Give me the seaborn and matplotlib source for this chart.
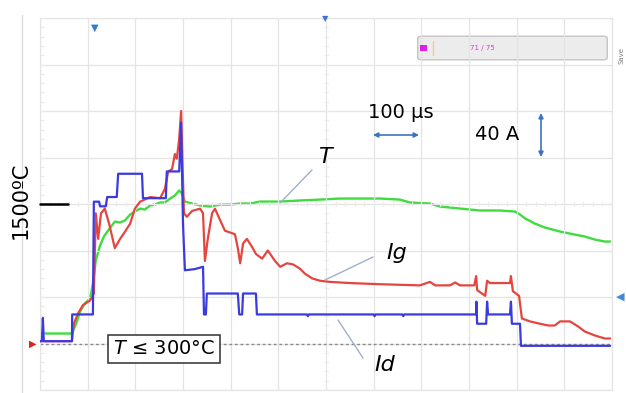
import numpy as np
import pandas as pd
import seaborn as sns
import matplotlib
matplotlib.use("Agg")
import matplotlib.pyplot as plt
from matplotlib.patches import FancyBboxPatch, Rectangle
from matplotlib.lines import Line2D

# ---------------- data (time in µs, currents in A, temperature in °C) -------------
t_id = [0, 4, 6, 8, 67, 67.5, 111, 113, 124, 126, 138, 141, 161, 164, 214, 216, 264, 266,
        292, 296, 300, 304, 325, 342, 344, 348, 350, 415, 418, 424, 426, 453, 455,
        560, 562, 564, 700, 702, 704, 760, 762, 764, 915, 915.5, 917, 936, 938, 940,
        986, 988, 990, 1007, 1009, 1196]
id_a = [2, 2, 22, 2, 2, 25, 25, 122, 122, 118, 118, 126, 126, 146, 146, 125, 125, 148,
        148, 190, 103, 63, 64, 66, 25, 25, 43, 43, 25, 25, 43, 43, 25,
        25, 23.5, 25, 25, 23.5, 25, 25, 23.5, 25, 25, 36, 17, 17, 36, 25,
        25, 36, 17, 17, -2, -2]

t_ig = [0, 67, 71, 80, 90, 105, 113, 117, 122, 128, 136, 145, 157, 168, 178, 189, 199,
        210, 231, 252, 262, 269, 277, 283, 287, 292, 296, 298, 302, 308, 319, 336, 342,
        346, 352, 361, 367, 378, 388, 409, 415, 420, 426, 434, 445, 453, 466, 478, 493,
        504, 518, 531, 545, 556, 571, 587, 608, 650, 713, 797, 818, 829, 860, 871, 881,
        911, 915, 917, 934, 938, 944, 986, 988, 992, 1005, 1011, 1028, 1049, 1066, 1080,
        1091, 1112, 1129, 1143, 1164, 1185, 1196]
ig_a = [2, 2, 17, 26, 33, 37, 43, 112, 90, 112, 116, 103, 82, 90, 96, 103, 116,
        122, 126, 125, 133, 148, 150, 163, 159, 176, 200, 168, 112, 109, 114, 116, 112,
        71, 90, 112, 116, 106, 97, 94, 82, 69, 86, 90, 83, 77, 73, 80, 71,
        66, 69, 68, 64.5, 60, 56, 54, 53, 52, 51, 50, 53, 50, 50, 52.5, 50,
        50, 58, 46, 41, 54, 52, 52, 58, 45, 41, 21.5, 19, 17, 15.5, 15.5,
        19, 19, 14.6, 10.3, 6.9, 4.3, 4.3]

t_T = [0, 67, 76, 84, 94, 105, 111, 117, 126, 134, 143, 157, 168, 178, 189, 199, 210, 220,
       231, 241, 252, 262, 273, 283, 292, 298, 304, 319, 336, 357, 378, 399, 420, 441, 462,
       504, 545, 587, 629, 671, 713, 755, 776, 818, 839, 881, 923, 965, 997, 1007, 1018,
       1038, 1059, 1091, 1122, 1143, 1164, 1185, 1196]
T_c = [386, 386, 472, 575, 644, 687, 816, 1014, 1143, 1220, 1272, 1349, 1341, 1358, 1409,
       1435, 1461, 1452, 1487, 1495, 1513, 1513, 1547, 1573, 1616, 1590, 1521, 1504, 1487,
       1478, 1495, 1495, 1504, 1504, 1521, 1521, 1530, 1538, 1547, 1547, 1547, 1538, 1513,
       1504, 1478, 1461, 1444, 1444, 1435, 1409, 1375, 1332, 1298, 1263, 1237, 1220, 1194,
       1177, 1177]

x_ticks = list(range(0, 1201, 100))      # 100 µs / div
y_ticks = list(range(-40, 281, 40))      # 40 A / div

# ---------------- figure ----------------
sns.set_theme(style="white")
plt.rcParams['font.family'] = ['DejaVu Sans']
plt.rcParams['text.color'] = 'black'

W, H = 626, 393
fig = plt.figure(figsize=(W / 100, H / 100), dpi=100)
fig.patch.set_facecolor("white")

L, R, T, B = 40, 612, 18, 390
ax = fig.add_axes([L / W, 1 - B / H, (R - L) / W, (B - T) / H])
ax.set_xlim(0, 1200)
ax.set_ylim(-40, 280)
ax.set_xticks(x_ticks)
ax.set_yticks(y_ticks)
ax.set_xticklabels([])
ax.set_yticklabels([])
ax.tick_params(length=0)
ax.grid(True, color="#e4e4e4", lw=0.9)
for s in ax.spines.values():
    s.set_color("#e4e4e4")
    s.set_linewidth(0.9)
ax.spines["top"].set_linestyle((0, (2, 2)))

ax2 = ax.twinx()
ax2.set_ylim(-100, 3100)
ax2.set_yticks([])
for s in ax2.spines.values():
    s.set_visible(False)

# minor ticks along centre lines and left edge
for xc in np.arange(0, 1200, 20):
    ax.plot([xc, xc], [118.5, 121.5], color="#ececec", lw=0.8, zorder=1)
for yc in np.arange(-40, 280, 8):
    ax.plot([596, 604], [yc, yc], color="#ececec", lw=0.8, zorder=1)
    ax.plot([0, 8], [yc, yc], color="#ececec", lw=0.8, zorder=1)

df_T = pd.DataFrame({"t": t_T, "v": T_c})
df_ig = pd.DataFrame({"t": t_ig, "v": ig_a})
df_id = pd.DataFrame({"t": t_id, "v": id_a})

sns.lineplot(data=df_T, x="t", y="v", ax=ax2, color="#3fdc3f", lw=1.7,
             estimator=None, sort=False, zorder=3)
sns.lineplot(data=df_ig, x="t", y="v", ax=ax, color="#e5453f", lw=1.6,
             estimator=None, sort=False, zorder=4)
sns.lineplot(data=df_id, x="t", y="v", ax=ax, color="#3a3ae2", lw=1.6,
             estimator=None, sort=False, zorder=5)
ax.set_xlabel("")
ax.set_ylabel("")
ax2.set_ylabel("")
ax.set_zorder(ax2.get_zorder() + 1)
ax.patch.set_visible(False)

# ground reference line
ax.axhline(0, color="#8a8a8a", lw=1.0, ls=(0, (2, 2)), zorder=2)

# ---------------- annotations (axes fraction) ----------------
def afx(x):
    return (x - L) / (R - L)

def afy(y):
    return (B - y) / (B - T)

lead = "#9fb0c8"
for (x0, y0, x1, y1) in [(312, 170, 280, 203), (373, 257, 325, 280), (363, 358, 338, 320)]:
    ax.add_line(Line2D([afx(x0), afx(x1)], [afy(y0), afy(y1)], transform=ax.transAxes,
                       color=lead, lw=1.0, zorder=7))

ax.text(afx(325), afy(157), "T", transform=ax.transAxes, fontsize=16, style="italic",
        ha="center", va="center", zorder=8)
ax.text(afx(397), afy(253), "Ig", transform=ax.transAxes, fontsize=16, style="italic",
        ha="center", va="center", zorder=8)
ax.text(afx(385), afy(365), "Id", transform=ax.transAxes, fontsize=16, style="italic",
        ha="center", va="center", zorder=8)
ax.text(afx(401), afy(112), "100 µs", transform=ax.transAxes, fontsize=14,
        ha="center", va="center", zorder=8)
ax.text(afx(497), afy(135), "40 A", transform=ax.transAxes, fontsize=14,
        ha="center", va="center", zorder=8)
arrow_c = "#3f72c0"
ax.annotate("", xy=(afx(419), afy(135)), xytext=(afx(373), afy(135)),
            xycoords=ax.transAxes, textcoords=ax.transAxes,
            arrowprops=dict(arrowstyle="<|-|>", color=arrow_c, lw=1.2,
                            mutation_scale=7, shrinkA=0, shrinkB=0), zorder=8)
ax.annotate("", xy=(afx(541), afy(113)), xytext=(afx(541), afy(157)),
            xycoords=ax.transAxes, textcoords=ax.transAxes,
            arrowprops=dict(arrowstyle="<|-|>", color=arrow_c, lw=1.2,
                            mutation_scale=7, shrinkA=0, shrinkB=0), zorder=8)

ax.text(afx(164), afy(349), "$T$ ≤ 300°C", transform=ax.transAxes, fontsize=14,
        ha="center", va="center", zorder=9,
        bbox=dict(boxstyle="square,pad=0.25", fc="white", ec="#404040", lw=1.2))

# ---------------- figure-level decorations (pixel positions) ----------------
def fx(x):
    return x / W

def fy(y):
    return 1 - y / H

# 1500 °C marker
fig.add_artist(Line2D([fx(40), fx(68)], [fy(204), fy(204)], color="black", lw=1.8,
                      zorder=10))
fig.text(fx(21), fy(200), "1500ºC", rotation=90, fontsize=15, ha="center", va="center")
fig.add_artist(Line2D([fx(22), fx(22)], [fy(15), fy(393)], color="#dcdcdc", lw=1.0))

# status bar
fig.add_artist(FancyBboxPatch((fx(419), fy(59)), fx(606) - fx(419), fy(37) - fy(59),
                              boxstyle="round,pad=0.002,rounding_size=0.006",
                              transform=fig.transFigure, fc="#ececec", ec="#c4c4c4", lw=1.0))
fig.add_artist(Rectangle((fx(420), fy(51)), fx(427) - fx(420), fy(45) - fy(51),
                         transform=fig.transFigure, fc="#e020e0", ec="none", zorder=10))
fig.add_artist(Line2D([fx(433), fx(433)], [fy(41), fy(55)], color="#f0d080", lw=1.0))
fig.text(fx(482), fy(48), "71 / 75", fontsize=5, color="#d040d0", ha="center", va="center")
fig.text(fx(621), fy(55), "Save", fontsize=5, color="#808080", rotation=90,
         ha="center", va="center")

# channel / trigger markers
fig.text(fx(95), fy(28), "▼", fontsize=7, color="#3a78d0", ha="center", va="center")
fig.text(fx(325), fy(19), "▼", fontsize=6, color="#3a78d0", ha="center", va="center")
fig.text(fx(620), fy(297), "◀", fontsize=8, color="#3a8ae0", ha="center", va="center")
fig.text(fx(33), fy(344), "▶", fontsize=7, color="#e02020", ha="center", va="center")

fig.savefig("out.png", dpi=100, facecolor="white")
